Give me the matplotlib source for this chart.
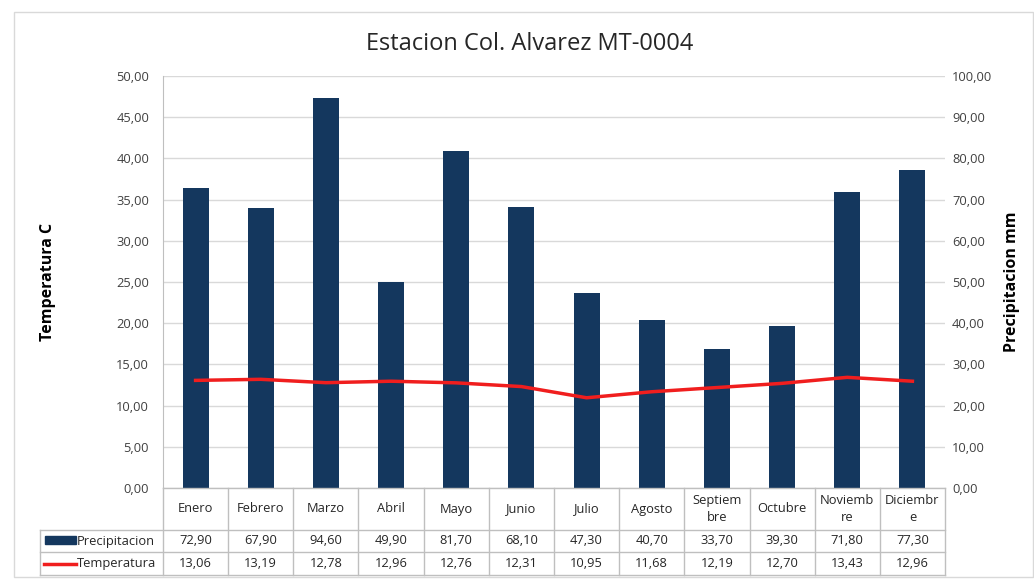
import matplotlib
matplotlib.use("Agg")
import matplotlib.pyplot as plt
import matplotlib.transforms as mtransforms
from matplotlib.patches import Rectangle
from matplotlib.lines import Line2D

months = ["Enero", "Febrero", "Marzo", "Abril", "Mayo", "Junio", "Julio",
          "Agosto", "Septiem\nbre", "Octubre", "Noviemb\nre", "Diciembr\ne"]
precip = [72.90, 67.90, 94.60, 49.90, 81.70, 68.10, 47.30, 40.70, 33.70, 39.30, 71.80, 77.30]
temp = [13.06, 13.19, 12.78, 12.96, 12.76, 12.31, 10.95, 11.68, 12.19, 12.70, 13.43, 12.96]
left_ticks = [0, 5, 10, 15, 20, 25, 30, 35, 40, 45, 50]
right_ticks = [0, 10, 20, 30, 40, 50, 60, 70, 80, 90, 100]

W, H = 1034, 579
plt.rcParams['font.family'] = ['Open Sans', 'DejaVu Sans']
fig = plt.figure(figsize=(W / 100, H / 100), dpi=100)

def fy(py):
    return 1 - py / H

def fx(px):
    return px / W

x0, x1, ytop, ybot = 163, 945, 76, 488
ax = fig.add_axes([fx(x0), fy(ybot), fx(x1) - fx(x0), fy(ytop) - fy(ybot)])
ax2 = ax.twinx()

bar_color = "#14375E"
line_color = "#F01E1E"
grid_color = "#D9D9D9"
text_color = "#404040"
fs = 9.3

xs = list(range(len(months)))
ax2.bar(xs, precip, width=0.40, color=bar_color, zorder=2)
ax.plot(xs, temp, color=line_color, lw=2.5, zorder=3)

ax.set_zorder(ax2.get_zorder() + 1)
ax.patch.set_visible(False)

ax.set_xlim(-0.5, len(months) - 0.5)
ax.set_ylim(0, 50)
ax2.set_ylim(0, 100)
ax.set_yticks(left_ticks)
ax.set_yticklabels([f"{v:.2f}".replace(".", ",") for v in left_ticks])
ax2.set_yticks(right_ticks)
ax2.set_yticklabels([f"{v:.2f}".replace(".", ",") for v in right_ticks])
ax2.grid(axis="y", color=grid_color, lw=1, zorder=0)
ax2.set_axisbelow(True)
ax.set_xticks([])
for a in (ax, ax2):
    for s in ("top", "right", "bottom"):
        a.spines[s].set_visible(False)
    a.spines["left"].set_visible(False)
    a.tick_params(axis="y", length=0, labelsize=fs, labelcolor=text_color)
ax.spines["left"].set_visible(True)
ax.spines["left"].set_color("#BFBFBF")
ax.tick_params(axis="y", pad=10)
ax2.tick_params(axis="y", pad=5)

ax.set_ylabel("Temperatura C", fontsize=11.5, fontweight="bold")
ax2.set_ylabel("Precipitacion mm", fontsize=11.5, fontweight="bold")
ax.yaxis.set_label_coords((48 - x0) / (x1 - x0), 0.5)
ax2.yaxis.set_label_coords((1012 - x0) / (x1 - x0), 0.5)
ax.yaxis.label.set_va("center")
ax2.yaxis.label.set_va("center")

fig.text(fx(530), fy(44), "Estacion Col. Alvarez MT-0004", ha="center", va="center",
         fontsize=17, color="#262626")

# Data table
tr = mtransforms.blended_transform_factory(ax.transData, fig.transFigure)
cat_bot, r1_bot, r2_bot = 530, 552, 575
tbl_color = "#BFBFBF"
lw = 1
fig.add_artist(Line2D([fx(x0), fx(x1)], [fy(ybot), fy(ybot)], color=tbl_color, lw=lw))
for yy in (cat_bot, r1_bot, r2_bot):
    fig.add_artist(Line2D([fx(40), fx(x1)], [fy(yy), fy(yy)], color=tbl_color, lw=lw))
for i in range(len(months) + 1):
    xb = i - 0.5
    fig.add_artist(Line2D([xb, xb], [fy(ybot), fy(r2_bot)], color=tbl_color, lw=lw,
                          transform=tr))
fig.add_artist(Line2D([fx(40), fx(40)], [fy(cat_bot), fy(r2_bot)], color=tbl_color, lw=lw))

for i, m in enumerate(months):
    fig.text(i, fy((ybot + cat_bot) / 2), m, transform=tr, ha="center", va="center",
             fontsize=fs, color="#262626", linespacing=1.4)
    fig.text(i, fy((cat_bot + r1_bot) / 2), f"{precip[i]:.2f}".replace(".", ","), transform=tr,
             ha="center", va="center", fontsize=fs, color="#262626")
    fig.text(i, fy((r1_bot + r2_bot) / 2), f"{temp[i]:.2f}".replace(".", ","), transform=tr,
             ha="center", va="center", fontsize=fs, color="#262626")

fig.add_artist(Rectangle((fx(45), fy(544)), fx(76) - fx(45), fy(536) - fy(544),
                         color=bar_color, transform=fig.transFigure))
fig.add_artist(Line2D([fx(44), fx(76)], [fy(564), fy(564)], color=line_color, lw=2.5))
fig.text(fx(77), fy(541), "Precipitacion", ha="left", va="center", fontsize=fs, color="#262626")
fig.text(fx(77), fy(564), "Temperatura", ha="left", va="center", fontsize=fs, color="#262626")

fig.add_artist(Rectangle((fx(14), fy(577)), fx(1033) - fx(14), fy(12) - fy(577),
                         fill=False, edgecolor="#D9D9D9", lw=1, transform=fig.transFigure))

fig.savefig("out.png", dpi=100)
